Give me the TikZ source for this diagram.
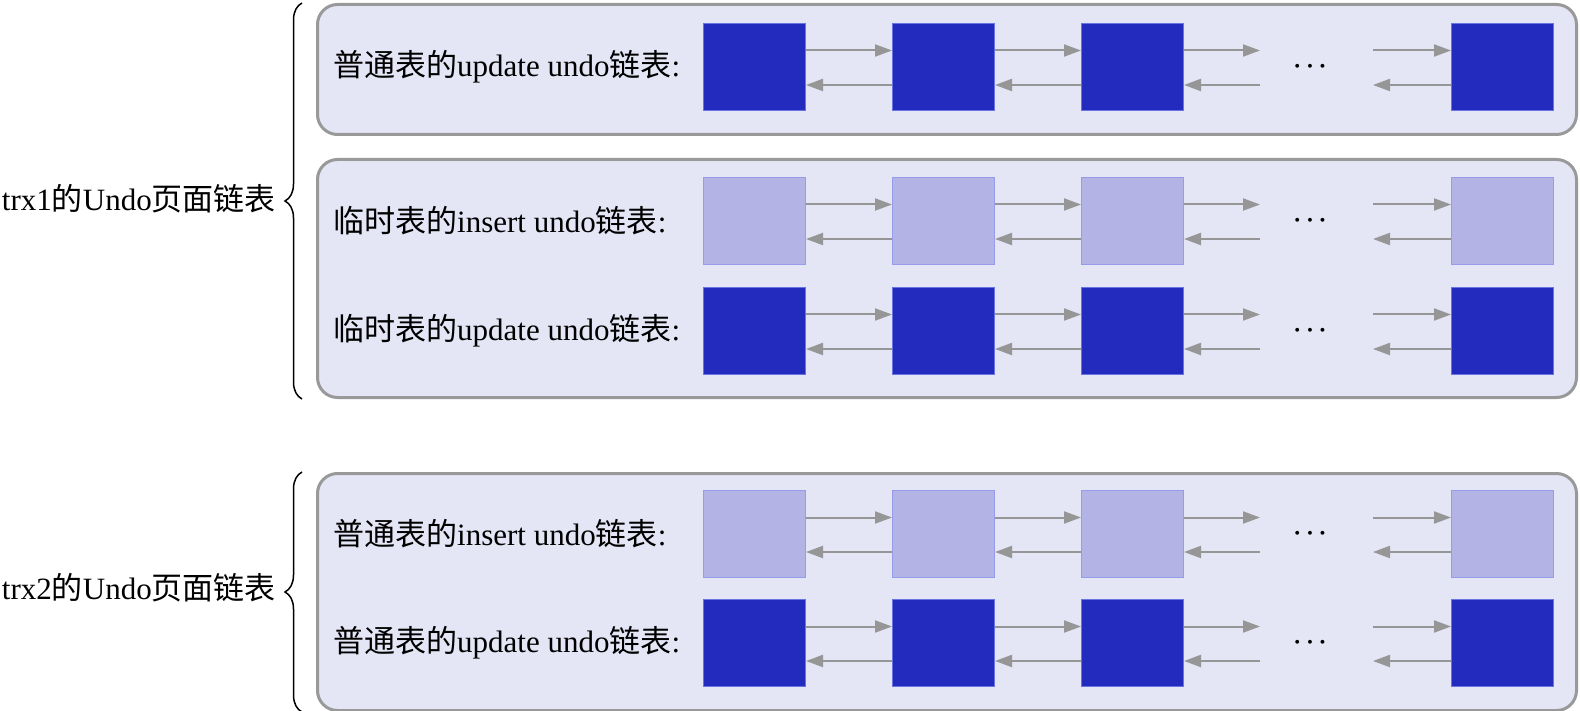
\documentclass[tikz,border=0pt]{standalone}
\usepackage{fontspec}
\setmainfont{Liberation Serif}
\newfontfamily\cjk{Noto Sans CJK SC}
\usepackage{tikz}
\usetikzlibrary{arrows.meta,positioning,decorations.pathreplacing}
\definecolor{groupFill}{RGB}{228,229,245}
\definecolor{groupLine}{RGB}{153,153,153}
\definecolor{pageDark}{RGB}{35,42,190}
\definecolor{pageDarkLine}{RGB}{105,115,225}
\definecolor{pageLight}{RGB}{179,179,230}
\definecolor{pageLightLine}{RGB}{150,155,235}
\definecolor{linkGray}{RGB}{150,150,150}

\begin{document}
\begin{tikzpicture}[
  x=1pt,y=-1pt,
  group/.style={draw=groupLine,line width=3pt,fill=groupFill,rounded corners=20pt,minimum width=1259pt,inner sep=0pt},
  page/.style={line width=1pt,minimum width=102pt,minimum height=87pt,inner sep=0pt},
  rowlabel/.style={anchor=west,inner sep=0pt,font=\fontsize{31}{36}\selectfont},
  trxlabel/.style={anchor=east,inner sep=0pt,font=\fontsize{31}{36}\selectfont},
  dotsmark/.style={inner sep=0pt,font=\fontsize{26}{26}\selectfont\boldmath},
  link/.style={-{Triangle[length=17pt,width=12pt]},line width=2pt,color=linkGray},
  brace/.style={decorate,decoration={brace,amplitude=17pt},line width=1.5pt}
]
\useasboundingbox (0,0) rectangle (1580,711);

% groups
\node[group,minimum height=130pt] (grpA) at (947,69.5) {};
\node[group,minimum height=238pt] (grpB) at (947,278.5) {};
\node[group,minimum height=237pt] (grpC) at (947,592) {};

% braces and transaction names
\draw[brace] ([xshift=-14pt]grpB.south west) -- ([xshift=-14pt]grpA.north west);
\draw[brace] ([xshift=-14pt]grpC.south west) -- ([xshift=-14pt]grpC.north west);
\node[trxlabel] (trx1) at (276,199) {trx1{\cjk 的}Undo{\cjk 页面链表}};
\node[trxlabel] (trx2) at (276,588) {trx2{\cjk 的}Undo{\cjk 页面链表}};

% list names
\node[rowlabel] (lab1) at (333,67) {{\cjk 普通表的}update undo{\cjk 链表}:};
\node[rowlabel] (lab2) at (333,221) {{\cjk 临时表的}insert undo{\cjk 链表}:};
\node[rowlabel] (lab3) at (333,331) {{\cjk 临时表的}update undo{\cjk 链表}:};
\node[rowlabel] (lab4) at (333,534) {{\cjk 普通表的}insert undo{\cjk 链表}:};
\node[rowlabel] (lab5) at (333,643) {{\cjk 普通表的}update undo{\cjk 链表}:};

% undo pages
\foreach \r/\y/\kind in {1/67/Dark,2/221/Light,3/331/Dark,4/534/Light,5/643/Dark}{
  \node[page,fill=page\kind,draw=page\kind Line] (p\r1) at (754.5,\y) {};
  \node[page,fill=page\kind,draw=page\kind Line,right=86pt of p\r1] (p\r2) {};
  \node[page,fill=page\kind,draw=page\kind Line,right=86pt of p\r2] (p\r3) {};
  \node[page,fill=page\kind,draw=page\kind Line] (p\r4) at (1502.5,\y) {};
  \node[dotsmark] (dots\r) at (1310,\y) {$\cdots$};
  \coordinate (out\r) at (1260,\y);
  \coordinate (in\r) at (1373,\y);
  \draw[link] ([yshift=16.5pt]p\r1.east) -- ([yshift=16.5pt]p\r2.west);
  \draw[link] ([yshift=-18pt]p\r2.west) -- ([yshift=-18pt]p\r1.east);
  \draw[link] ([yshift=16.5pt]p\r2.east) -- ([yshift=16.5pt]p\r3.west);
  \draw[link] ([yshift=-18pt]p\r3.west) -- ([yshift=-18pt]p\r2.east);
  \draw[link] ([yshift=16.5pt]p\r3.east) -- ([yshift=16.5pt]out\r);
  \draw[link] ([yshift=-18pt]out\r) -- ([yshift=-18pt]p\r3.east);
  \draw[link] ([yshift=16.5pt]in\r) -- ([yshift=16.5pt]p\r4.west);
  \draw[link] ([yshift=-18pt]p\r4.west) -- ([yshift=-18pt]in\r);
}
\end{tikzpicture}
\end{document}
